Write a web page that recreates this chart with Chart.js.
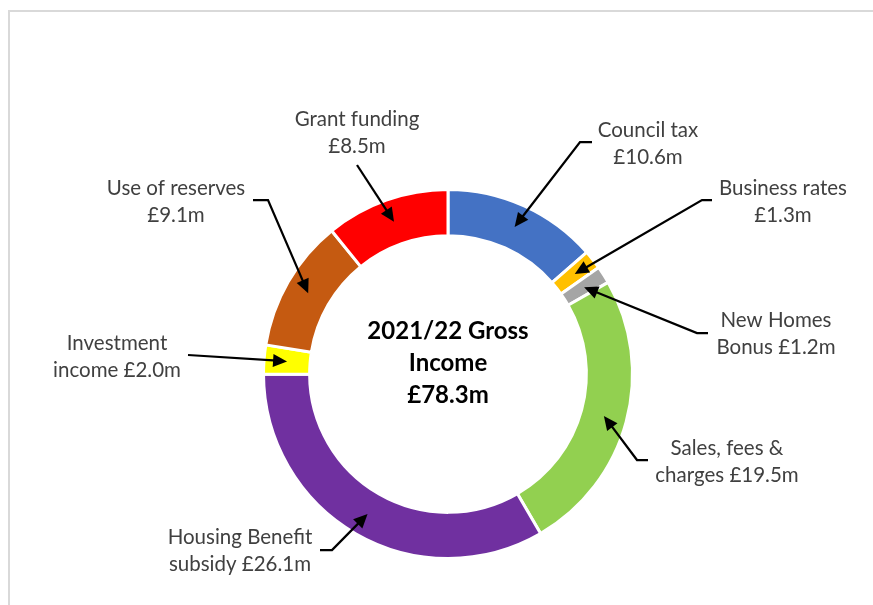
<!DOCTYPE html>
<html>
<head>
<meta charset="utf-8">
<script src="https://cdn.jsdelivr.net/npm/chart.js@4"></script>
<style>
  body { margin: 0; background: #fff; }
  #wrap { position: relative; width: 873px; height: 605px; overflow: hidden; }
  #frame { position: absolute; left: 8px; top: 10px; width: 900px; height: 700px;
           border-left: 2px solid #d9d9d9; border-top: 2px solid #d9d9d9; }
  canvas { position: absolute; left: 0; top: 0; }
</style>
</head>
<body>
<div id="wrap">
  <div id="frame"></div>
  <canvas id="incomeChart" width="873" height="605"></canvas>
</div>
<script>
// Data (£m)
const categories = ['Council tax', 'Business rates', 'New Homes Bonus', 'Sales, fees & charges',
  'Housing Benefit subsidy', 'Investment income', 'Use of reserves', 'Grant funding'];
const amounts = [10.6, 1.3, 1.2, 19.5, 26.1, 2.0, 9.1, 8.5];
const labelLines = [
  ['Council tax', '£10.6m'],
  ['Business rates', '£1.3m'],
  ['New Homes', 'Bonus £1.2m'],
  ['Sales, fees &', 'charges £19.5m'],
  ['Housing Benefit', 'subsidy £26.1m'],
  ['Investment', 'income £2.0m'],
  ['Use of reserves', '£9.1m'],
  ['Grant funding', '£8.5m']
];
const centreLines = ['2021/22 Gross', 'Income', '£78.3m'];
const colours = ['#4472C4', '#FFC000', '#A5A5A5', '#92D050', '#7030A0', '#FFFF00', '#C55A11', '#FF0000'];

// where each callout sits: text centre, arrow tail, optional elbow
const callouts = [
  { x: 648, y: 130, tail: [592, 142], elbow: [580, 142] },
  { x: 783, y: 188, tail: [712, 200], elbow: [702, 200] },
  { x: 776, y: 320, tail: [708, 333], elbow: [697, 333] },
  { x: 727, y: 448, tail: [648, 460], elbow: [637, 460] },
  { x: 240, y: 537, tail: [320, 550], elbow: [332, 550] },
  { x: 117, y: 343, tail: [188, 355], elbow: null },
  { x: 176, y: 188, tail: [253, 200], elbow: [268, 200] },
  { x: 357, y: 119, tail: [357, 165], elbow: null }
];

function arrowHead(ctx, from, to) {
  const ang = Math.atan2(to[1] - from[1], to[0] - from[0]);
  const len = 14, half = 6.5;
  ctx.beginPath();
  ctx.moveTo(to[0], to[1]);
  ctx.lineTo(to[0] - len * Math.cos(ang) + half * Math.sin(ang), to[1] - len * Math.sin(ang) - half * Math.cos(ang));
  ctx.lineTo(to[0] - len * Math.cos(ang) - half * Math.sin(ang), to[1] - len * Math.sin(ang) + half * Math.cos(ang));
  ctx.closePath();
  ctx.fill();
}

const calloutPlugin = {
  id: 'callouts',
  afterDraw(chart) {
    const ctx = chart.ctx;
    const arcs = chart.getDatasetMeta(0).data;
    ctx.save();
    // labels
    ctx.font = '20.5px Lato';
    ctx.fillStyle = '#404040';
    ctx.textAlign = 'center';
    ctx.textBaseline = 'middle';
    labelLines.forEach((lines, i) => {
      lines.forEach((t, j) => ctx.fillText(t, callouts[i].x, callouts[i].y + j * 27));
    });
    // arrows
    ctx.strokeStyle = '#000';
    ctx.fillStyle = '#000';
    ctx.lineWidth = 2.25;
    arcs.forEach((arc, i) => {
      const c = callouts[i];
      const tip = arc.getCenterPoint();
      const start = c.elbow || c.tail;
      const ang = Math.atan2(tip.y - start[1], tip.x - start[0]);
      const end = [tip.x - 10 * Math.cos(ang), tip.y - 10 * Math.sin(ang)];
      ctx.beginPath();
      ctx.moveTo(c.tail[0], c.tail[1]);
      if (c.elbow) ctx.lineTo(c.elbow[0], c.elbow[1]);
      ctx.lineTo(end[0], end[1]);
      ctx.stroke();
      arrowHead(ctx, start, [tip.x, tip.y]);
    });
    // centre text
    const cx = (chart.chartArea.left + chart.chartArea.right) / 2;
    const cy = (chart.chartArea.top + chart.chartArea.bottom) / 2;
    ctx.font = 'bold 24px Lato';
    ctx.fillStyle = '#000';
    centreLines.forEach((t, j) => ctx.fillText(t, cx, cy - 43 + j * 32));
    ctx.restore();
  }
};

new Chart(document.getElementById('incomeChart'), {
  type: 'doughnut',
  data: {
    labels: categories,
    datasets: [{
      data: amounts,
      backgroundColor: colours,
      borderColor: '#ffffff',
      borderWidth: 3,
      radius: 184.5,
      hoverOffset: 0
    }]
  },
  options: {
    responsive: false,
    animation: false,
    cutout: '75%',
    layout: { padding: { left: 265, right: 242, top: 191, bottom: 48 } },
    plugins: { legend: { display: false }, tooltip: { enabled: false } }
  },
  plugins: [calloutPlugin]
});
</script>
</body>
</html>
